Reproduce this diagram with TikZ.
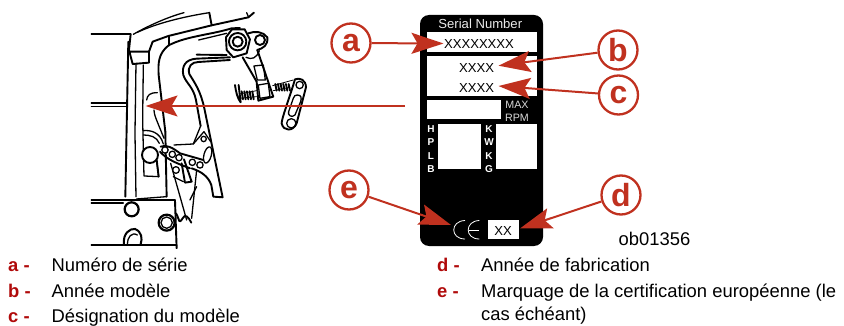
\documentclass[tikz,border=0pt]{standalone}
\usepackage{fontspec}
\setmainfont{Liberation Sans}
\usetikzlibrary{arrows.meta}
\definecolor{callred}{HTML}{C0311F}
\definecolor{listred}{HTML}{B00A0A}
\tikzset{
  x=1pt,y=-1pt,
  callout/.style={circle,draw=callred,line width=2.3pt,fill=white,minimum size=39pt,inner sep=0pt,text=callred,font=\fontsize{32}{32}\selectfont\bfseries},
  pointer/.style={draw=callred,line width=2pt,-{Stealth[length=32pt,width=21pt,inset=6pt,fill=callred]}},
  whitebox/.style={fill=white,draw=none},
  lab/.style={text=black,inner sep=0pt,font=\fontsize{13.1}{13.1}\selectfont},
  tinyw/.style={text=white!85!black,inner sep=0pt,font=\fontsize{10.7}{10.7}\selectfont},
  boldw/.style={text=white,inner sep=0pt,font=\fontsize{10}{10}\selectfont\bfseries},
  keyl/.style={anchor=base west,inner sep=0pt,text=listred,font=\fontsize{18.4}{22}\selectfont\bfseries},
  item/.style={anchor=base west,inner sep=0pt,text=black,font=\fontsize{18.4}{22}\selectfont},
  ink/.style={line width=1.3pt,line cap=round,line join=round,draw=black},
  inkb/.style={line width=1.9pt,line cap=round,line join=round,draw=black},
  inkt/.style={line width=.8pt,line cap=round,line join=round,draw=black},
}
\begin{document}
\begin{tikzpicture}
\useasboundingbox (0,0) rectangle (844,326);
% ---------- engine line drawing (coordinates in 3x units)
\begin{scope}[x=.3333pt,y=-.3333pt]
\clip (273,36) rectangle (960,747);
\draw[inkb] (273,103)--(392,103);
\draw[ink] (400,103) .. controls (440,80) and (500,52) .. (552,38);
\draw[ink] (412,97) .. controls (470,70) and (550,50) .. (628,38);
\draw[inkb] (628,38)--(635,76)--(745,52)--(762,38);
\draw[ink] (740,38)--(746,52);
\draw[inkb] (392,103)--(387,150)--(398,192)--(447,188)--(447,155)--(392,155);
\draw[inkb] (447,155)--(458,125)--(505,108)--(635,76);
\draw[inkb] (385,125)--(376,590);
\draw[ink] (408,192)--(405,400)--(408,590);
\draw[ink] (430,195)--(428,360)--(432,528)--(476,530)--(470,480);
\draw[inkb] (506,108)--(506,136);
\draw[inkb] (506,136) .. controls (475,160) and (474,190) .. (476,225)--(496,395);
\draw[inkb] (496,395)--(500,590);
\draw[inkb] (506,136) .. controls (560,108) and (630,105) .. (695,85)--(720,84);
\draw[ink] (596,120)--(680,100);
% inner curve details
\draw[ink] (440,300) .. controls (442,285) and (450,278) .. (472,278);
\draw[ink] (462,330) .. controls (462,345) and (470,360) .. (492,415);
\draw[ink] (430,392) .. controls (450,390) and (480,395) .. (490,432);
\draw[ink] (430,405) .. controls (450,405) and (470,410) .. (478,430);
\draw[inkb] (470,480)--(476,530);
\draw[inkb,fill=white] (450,465) circle (24);
% pivot plate and rounded arm
\draw[inkb] (690,172)--(590,176) .. controls (555,178) and (545,200) .. (550,225) .. controls (558,250) and (580,260) .. (588,300)--(602,378);
\draw[inkb] (612,320)--(668,592)--(640,590)--(634,555) .. controls (625,530) and (605,515) .. (575,505);
\draw[inkb] (680,165)--(590,164);
\draw[inkb] (612,320) .. controls (600,270) and (585,250) .. (568,222) .. controls (562,200) and (575,186) .. (595,186)--(690,180);
\draw[ink] (602,378)--(580,432)--(522,435);
\draw[ink] (580,432)--(612,395)--(632,425);
\draw[ink,fill=white] (611,417) circle (8);
\draw[ink,fill=white,rotate around={-15:(623,465)}] (623,465) ellipse (11 and 25);
% chain of rollers
\foreach \cx/\cy in {495/450,517/463,537/473,577/487,600/495}
  \draw[ink,fill=white] (\cx,\cy) circle (9.5);
\draw[inkb] (480,455) .. controls (500,478) and (530,490) .. (570,505);
\draw[inkb] (482,440) .. controls (500,432) and (520,445) .. (540,460) -- (610,480);
\draw[ink] (512,490)--(560,660);
\draw[ink] (590,510)--(575,655);
\draw[inkb] (552,478)--(575,545)--(555,548)--(545,490);
\draw[ink] (520,530)--(550,545);
\draw[ink,fill=white] (528,510) circle (10);
\draw[ink] (590,560)--(570,600);
\draw[inkb] (528,640) .. controls (540,660) and (535,675) .. (548,655) .. controls (555,640) and (565,650) .. (574,668);
% nut, washer and link
\draw[inkb,fill=white] (678,112)--(696,88)--(734,88)--(750,118)--(740,160)--(700,172)--(680,150)--cycle;
\draw[inkb] (713,125) circle (26);
\draw[inkb] (713,125) circle (15);
\draw[inkb] (745,100) .. controls (765,92) and (790,95) .. (802,112) .. controls (805,135) and (790,145) .. (772,150);
\draw[inkb] (780,120) circle (15);
\draw[inkb] (728,172)--(770,245);
\draw[inkb] (772,150)--(820,290)--(775,302)--(770,245);
\draw[ink] (738,172) .. controls (755,180) and (770,175) .. (778,152);
\draw[ink] (762,198)--(790,195)--(796,240)--(772,240)--cycle;
\draw[ink] (775,255)--(805,250)--(810,290)--(780,295)--cycle;
% spring & plunger
\draw[inkb] (705,255) .. controls (708,275) and (712,295) .. (722,307)--(716,255);
\draw[inkt] (718,282)--(770,272); \draw[inkt] (718,295)--(770,290);
\foreach \sx in {725,733,741,749,757}
  \draw[inkb] (\sx,274)--(\sx+4,298);
\draw[inkt] (818,257)--(880,240); \draw[inkt] (820,272)--(870,262);
\foreach \sx in {826,834,842,850,858,866}
  \draw[inkb] (\sx,252)--(\sx+4,272);
\draw[inkb] (885,238) .. controls (900,232) and (918,240) .. (918,262)--(890,370) .. controls (880,395) and (850,395) .. (845,370) .. controls (845,355) and (870,290) .. (885,238);
\draw[ink] (899,255) circle (11);
\draw[ink] (874,370) circle (14);
\draw[ink] (892,285) .. controls (905,285) and (905,295) .. (902,305)--(885,345) .. controls (875,355) and (862,345) .. (866,335)--(880,295) .. controls (882,288) and (886,285) .. (892,285);
% lower block
\draw[inkb] (273,310)--(378,310);
\draw[ink] (273,319)--(378,319);
\draw[inkb] (273,601)--(525,601);
\draw[ink] (273,609)--(370,609);
\draw[ink] (410,597)--(500,590);
\draw[inkb] (525,601)--(530,745);
\draw[inkb] (273,735)--(530,735);
\draw[line width=2.2pt,fill=white] (395,628) circle (21);
\draw[line width=2.2pt,fill=white] (500,668) circle (24);
\draw[ink] (500,668) circle (17);
\draw[line width=2pt] (372,733) .. controls (368,700) and (390,685) .. (405,687) .. controls (425,695) and (428,715) .. (422,733);
\draw[ink] (382,733) .. controls (382,712) and (395,695) .. (412,705);
\end{scope}
% ---------- serial plate
\draw[fill=black,draw=none,rounded corners=9pt] (420,15) rectangle (543,246);
\fill[whitebox] (427.3,32.3) rectangle (537.3,51.7);
\fill[whitebox] (427.3,56) rectangle (537.3,96);
\fill[whitebox] (427.3,100) rectangle (501,119.3);
\fill[whitebox] (437.7,124.3) rectangle (480.7,169);
\fill[whitebox] (495.7,124) rectangle (537.3,169.3);
\fill[whitebox] (488.3,220) rectangle (518.7,239.3);
\node[text=white!92!black,inner sep=0pt,font=\fontsize{13.1}{13.1}\selectfont] (serial) at (480.3,24.3) {Serial Number};
\node[lab] (xa) at (479,43.5) {XXXXXXXX};
\node[lab] (xb) at (476.7,67.5) {XXXX};
\node[lab] (xc) at (476.7,87.5) {XXXX};
\node[lab] (xd) at (503,231) {XX};
\node[tinyw] (max) at (517,104.5) {MAX};
\node[tinyw] (rpm) at (517,117.5) {RPM};
\foreach \n/\ty/\tx in {h/129.3/H,p/141.7/P,l/155.7/L,bb/169/B}
  \node[boldw] (\n) at (431,\ty) {\tx};
\foreach \n/\ty/\tx in {k/129.3/K,w/141.7/W,kk/156/K,g/169.5/G}
  \node[boldw] (\n) at (489,\ty) {\tx};
% CE mark
\draw[white,line width=.8pt] (465,220.5) .. controls (450,221) and (450,239) .. (465,239);
\draw[white,line width=.8pt] (479.3,220.5) .. controls (464.5,221) and (464.5,239) .. (479.3,239);
\draw[white,line width=.8pt] (469,230)--(479,230);
% ---------- callouts
\coordinate (enginetip) at (145.5,106);
\coordinate (enginetail) at (405,106);
\coordinate (tipa) at (443.5,43.5);
\coordinate (tipb) at (498.5,65.7);
\coordinate (tipc) at (498.5,86);
\coordinate (tipd) at (520,228.5);
\coordinate (tipe) at (451,225);
\node[callout] (ca) at (351,43) {a};
\node[callout] (cb) at (618,50) {b};
\node[callout] (cc) at (618.5,95) {c};
\node[callout] (cd) at (621,195) {d};
\node[callout] (ce) at (349,190) {e};
\draw[pointer] (enginetail) -- (enginetip);
\draw[pointer] (ca) -- (tipa);
\draw[pointer] (cb) -- (tipb);
\draw[pointer] (cc) -- (tipc);
\draw[pointer] (cd) -- (tipd);
\draw[pointer] (ce) -- (tipe);
% ---------- texts
\node[inner sep=0pt,text=black,font=\fontsize{18.4}{22}\selectfont] (ob) at (654.5,238.5) {ob01356};
\node[keyl] (la) at (8,271.7) {a -};
\node[item] (ta) at (51.5,271.7) {Numéro de série};
\node[keyl] (lb) at (8,297.7) {b -};
\node[item] (tb) at (51.5,297.7) {Année modèle};
\node[keyl] (lc) at (8,322) {c -};
\node[item] (tc) at (51.5,322) {Désignation du modèle};
\node[keyl] (ld) at (437,271.7) {d -};
\node[item] (td) at (481,271.7) {Année de fabrication};
\node[keyl] (le) at (437,297.7) {e -};
\node[item] (te) at (481,297.7) {Marquage de la certification européenne (le};
\node[item] (te2) at (481,320) {cas échéant)};
\end{tikzpicture}
\end{document}
